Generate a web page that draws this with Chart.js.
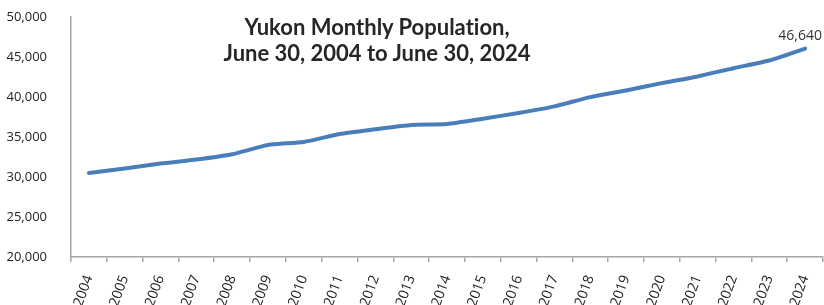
<!DOCTYPE html>
<html>
<head>
<meta charset="utf-8">
<script src="https://cdn.jsdelivr.net/npm/chart.js@4.4.1/dist/chart.umd.min.js"></script>
<style>
  html, body { margin: 0; padding: 0; background: #fff; }
  #wrap { position: relative; width: 824px; height: 305px; }
  #title {
    position: absolute; left: 177px; width: 400px; top: 14px;
    text-align: center; font: bold 22px Lato, sans-serif; line-height: 26px; color: #262626;
    font-variant-ligatures: none;
  }
</style>
</head>
<body>
<div id="wrap">
  <canvas id="popChart" width="824" height="305"></canvas>
  <div id="title">Yukon Monthly Population,<br>June 30, 2004 to June 30, 2024</div>
</div>
<script>
const years = ['2004', '2005', '2006', '2007', '2008', '2009', '2010', '2011', '2012', '2013', '2014',
  '2015', '2016', '2017', '2018', '2019', '2020', '2021', '2022', '2023', '2024'];
const population = [30510, 31060, 31680, 32180, 32840, 34000, 34380, 35370, 35960, 36500, 36620,
  37290, 38000, 38830, 39990, 40820, 41730, 42570, 43600, 44560, 46050];
const pointLabels = ['', '', '', '', '', '', '', '', '', '', '', '', '', '', '', '', '', '', '', '', '46,640'];

// writes the value label above a point (only the last one has text)
const pointLabelPlugin = {
  id: 'pointLabel',
  afterDatasetsDraw(chart) {
    const ctx = chart.ctx;
    const meta = chart.getDatasetMeta(0);
    ctx.save();
    ctx.font = '14px "Open Sans", sans-serif';
    ctx.fillStyle = '#333';
    ctx.textAlign = 'center';
    ctx.textBaseline = 'bottom';
    meta.data.forEach((pt, i) => {
      const txt = pointLabels[i];
      if (!txt) return;
      const w = ctx.measureText(txt).width;
      const x = Math.min(pt.x, chart.width - w / 2 - 2);
      ctx.fillText(txt, x, pt.y - 6);
    });
    ctx.restore();
  }
};

new Chart(document.getElementById('popChart'), {
  type: 'line',
  data: {
    labels: years,
    datasets: [{
      data: population,
      borderColor: '#4a7ebb',
      borderWidth: 4,
      borderCapStyle: 'round',
      tension: 0.2,
      pointRadius: 0,
      fill: false
    }]
  },
  options: {
    responsive: false,
    animation: false,
    layout: { padding: { top: 17, right: 1, left: 0, bottom: 0 } },
    plugins: { legend: { display: false }, tooltip: { enabled: false } },
    scales: {
      x: {
        offset: true,
        // fixed band under the plot; drop the padding chart.js adds for rotated labels
        afterFit: (s) => { s.height = 48; s.paddingLeft = 0; s.paddingRight = 0; },
        grid: { display: true, drawOnChartArea: false, drawTicks: true, tickLength: 5, offset: true, color: '#a6a6a6', lineWidth: 1.5 },
        border: { color: '#a6a6a6', width: 1.5 },
        ticks: {
          minRotation: 70, maxRotation: 70, autoSkip: false, padding: 11,
          color: '#222', font: { family: '"Open Sans", sans-serif', size: 14 }
        }
      },
      y: {
        min: 20000, max: 50000,
        afterFit: (s) => { s.width = 71; s.paddingTop = 0; s.paddingBottom = 0; },
        grid: { display: false },
        border: { color: '#a6a6a6', width: 1.5 },
        ticks: {
          stepSize: 5000, padding: 16, color: '#222',
          font: { family: '"Open Sans", sans-serif', size: 13 },
          callback: (v) => v.toLocaleString('en-US')
        }
      }
    }
  },
  plugins: [pointLabelPlugin]
});
</script>
</body>
</html>
